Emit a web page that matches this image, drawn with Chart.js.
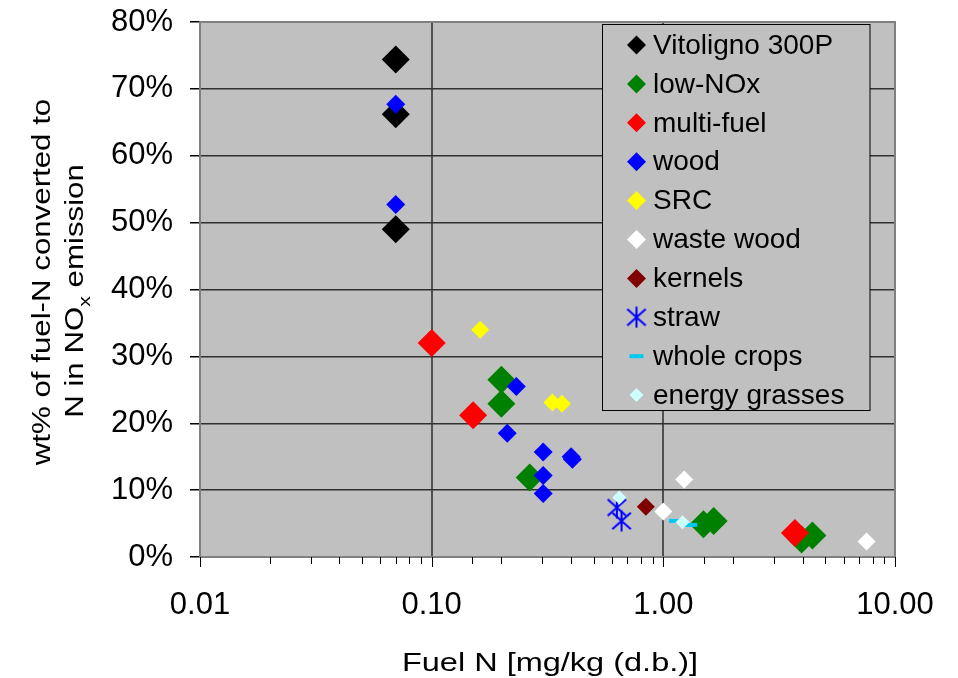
<!DOCTYPE html>
<html>
<head>
<meta charset="utf-8">
<script src="https://cdn.jsdelivr.net/npm/chart.js@4/dist/chart.umd.min.js"></script>
<style>
html,body{margin:0;padding:0;background:#fff;}
#wrap{width:958px;height:678px;position:relative;}
canvas{display:block;}
</style>
</head>
<body>
<div id="wrap"><canvas id="c" width="958" height="678"></canvas></div>
<script>
// ---------------- DATA ----------------
const seriesLabels = ['Vitoligno 300P','low-NOx','multi-fuel','wood','SRC','waste wood','kernels','straw','whole crops','energy grasses'];

// [Fuel N, wt% converted]
const vitoligno300P = [[0.07,74.4],[0.07,66.2],[0.07,49.0]];
const lowNOx        = [[0.20,26.5],[0.20,22.9],[0.265,11.9],[1.49,4.9],[1.65,5.4],[3.95,2.6],[4.40,3.2]];
const multiFuel     = [[0.10,32.0],[0.151,21.2],[3.70,3.6]];
const wood          = [[0.07,67.7],[0.07,52.7],[0.232,25.5],[0.212,18.5],[0.303,15.7],[0.40,15.0],[0.405,14.6],[0.303,12.2],[0.303,9.5]];
const src           = [[0.162,34.0],[0.332,23.1],[0.365,22.9]];
const wasteWood     = [[1.00,6.8],[1.23,11.6],[7.54,2.3]];
const kernels       = [[0.84,7.5]];
const straw         = [[0.63,7.4],[0.66,5.4]];
const wholeCrops    = [[1.14,5.4],[1.30,4.8]];
const energyGrasses = [[0.646,8.9],[1.21,5.2]];

const xDecades      = [0.01, 0.1, 1, 10];
const xDecadeLabels = ['0.01','0.10','1.00','10.00'];
const yMin = 0, yMax = 80, yStep = 10;

const xTitle = 'Fuel N [mg/kg (d.b.)]';
const yTitleLine1 = 'wt% of fuel-N converted to';
const yTitleLine2 = ['N in NO', 'x', ' emission'];

// ---------------- STYLE ----------------
const FONT = '"Liberation Sans", Arial, Helvetica, sans-serif';

function makeStar(size, color, lw) {
  const c = document.createElement('canvas');
  c.width = size; c.height = size;
  const g = c.getContext('2d');
  g.strokeStyle = color; g.lineWidth = lw; g.lineCap = 'butt';
  const h = size / 2, d = size * 0.42;
  g.beginPath();
  g.moveTo(h, 0.5); g.lineTo(h, size - 0.5);
  g.moveTo(h - d, h - d * 0.9); g.lineTo(h + d, h + d * 0.9);
  g.moveTo(h - d, h + d * 0.9); g.lineTo(h + d, h - d * 0.9);
  g.stroke();
  return c;
}
const starImg = makeStar(22, '#0000ff', 2);

const seriesData = [vitoligno300P, lowNOx, multiFuel, wood, src, wasteWood, kernels, straw, wholeCrops, energyGrasses];
const seriesStyle = [
  {color:'#000000', style:'rectRot', r:14,  lr:9.5},
  {color:'#008000', style:'rectRot', r:14,  lr:9.5},
  {color:'#ff0000', style:'rectRot', r:14,  lr:9.5},
  {color:'#0000ff', style:'rectRot', r:9.5, lr:9.5},
  {color:'#ffff00', style:'rectRot', r:9,   lr:9.5},
  {color:'#ffffff', style:'rectRot', r:9,   lr:9.5},
  {color:'#800000', style:'rectRot', r:9,   lr:9.5},
  {color:'#0000ff', style:'star',    r:11,  lr:11},
  {color:'#00c8f0', style:'line',    r:7.5, lr:7},
  {color:'#ccffff', style:'rectRot', r:7,   lr:7}
];

const N = seriesLabels.length;
const datasets = seriesLabels.map((lab, i) => {
  const s = seriesStyle[i];
  const isLine = s.style === 'line';
  return {
    label: lab,
    data: seriesData[i].map(p => ({x: p[0], y: p[1]})),
    showLine: false,
    clip: false,
    order: N - i,
    pointStyle: s.style === 'star' ? starImg : s.style,
    pointRadius: s.r,
    pointHoverRadius: s.r,
    pointBackgroundColor: s.color,
    pointBorderColor: s.color,
    pointBorderWidth: isLine ? 4 : 0,
    pointHoverBorderWidth: isLine ? 4 : 0,
    backgroundColor: s.color,
    borderColor: s.color
  };
});

function isDecade(v) {
  return xDecades.some(d => Math.abs(v - d) / d < 1e-6);
}

// ---------------- PLUGINS ----------------
const bgPlugin = {
  id: 'bg',
  beforeDraw(chart) {
    const {ctx, chartArea: a} = chart;
    ctx.save();
    ctx.fillStyle = '#ffffff';
    ctx.fillRect(0, 0, chart.width, chart.height);
    ctx.fillStyle = '#c0c0c0';
    ctx.fillRect(a.left, a.top, a.right - a.left, a.bottom - a.top);
    ctx.restore();
  }
};

const decorPlugin = {
  id: 'decor',
  afterDatasetsDraw(chart) {
    const {ctx, chartArea: a} = chart;
    const xs = chart.scales.x;
    ctx.save();
    ctx.strokeStyle = '#808080';
    ctx.lineWidth = 2;
    ctx.strokeRect(a.left, a.top, a.right - a.left, a.bottom - a.top);
    ctx.strokeStyle = '#000000';
    ctx.lineWidth = 1;
    xs.ticks.forEach(t => {
      const px = Math.round(xs.getPixelForValue(t.value)) + 0.5;
      const len = isDecade(t.value) ? 10 : 7;
      ctx.beginPath();
      ctx.moveTo(px, a.bottom);
      ctx.lineTo(px, a.bottom + len);
      ctx.stroke();
    });
    ctx.restore();
  },
  afterDraw(chart) {
    const ctx = chart.ctx;
    ctx.save();
    ctx.fillStyle = '#000000';
    ctx.font = '26px ' + FONT;
    ctx.textAlign = 'center';
    ctx.textBaseline = 'alphabetic';
    ctx.save();
    ctx.translate(550, 671);
    ctx.scale(1.25, 1);
    ctx.fillText(xTitle, 0, 0);
    ctx.restore();

    ctx.save();
    ctx.translate(50, 282);
    ctx.rotate(-Math.PI / 2);
    ctx.scale(1.25, 1);
    ctx.font = '25px ' + FONT;
    ctx.textAlign = 'center';
    ctx.fillText(yTitleLine1, 0, 0);
    ctx.restore();

    ctx.save();
    ctx.translate(83, 291);
    ctx.rotate(-Math.PI / 2);
    ctx.scale(1.25, 1);
    ctx.textAlign = 'left';
    ctx.font = '25px ' + FONT;
    const w1 = ctx.measureText(yTitleLine2[0]).width;
    const w3 = ctx.measureText(yTitleLine2[2]).width;
    ctx.font = '17px ' + FONT;
    const w2 = ctx.measureText(yTitleLine2[1]).width;
    let u = -(w1 + w2 + w3) / 2;
    ctx.font = '25px ' + FONT;
    ctx.fillText(yTitleLine2[0], u, 0);
    u += w1;
    ctx.font = '17px ' + FONT;
    ctx.fillText(yTitleLine2[1], u, 7);
    u += w2;
    ctx.font = '25px ' + FONT;
    ctx.fillText(yTitleLine2[2], u, 0);
    ctx.restore();

    const lx = 602.5, ly = 24.5, lw = 267.5, lh = 386;
    ctx.fillStyle = '#c0c0c0';
    ctx.fillRect(lx, ly, lw, lh);
    ctx.strokeStyle = '#000000';
    ctx.lineWidth = 1;
    ctx.strokeRect(lx, ly, lw, lh);
    ctx.font = '28px ' + FONT;
    ctx.textAlign = 'left';
    ctx.textBaseline = 'middle';
    chart.data.datasets.forEach((ds, i) => {
      const s = seriesStyle[i];
      const cy = 45 + i * 38.9;
      const cx = 636.5;
      ctx.fillStyle = s.color;
      if (s.style === 'rectRot') {
        const r = s.lr;
        ctx.beginPath();
        ctx.moveTo(cx - r, cy); ctx.lineTo(cx, cy - r);
        ctx.lineTo(cx + r, cy); ctx.lineTo(cx, cy + r);
        ctx.closePath(); ctx.fill();
      } else if (s.style === 'line') {
        ctx.fillRect(cx - s.lr, cy - 2, s.lr * 2, 4);
      } else if (s.style === 'star') {
        ctx.drawImage(starImg, cx - 11, cy - 11);
      }
      ctx.fillStyle = '#000000';
      ctx.fillText(ds.label, 653, cy + 1);
    });
    ctx.restore();
  }
};

// ---------------- CHART ----------------
new Chart(document.getElementById('c'), {
  type: 'scatter',
  data: { datasets },
  plugins: [bgPlugin, decorPlugin],
  options: {
    responsive: false,
    animation: false,
    events: [],
    devicePixelRatio: 1,
    layout: { padding: { top: 22, right: 63, left: 0, bottom: 0 } },
    plugins: { legend: { display: false }, tooltip: { enabled: false }, title: { display: false } },
    scales: {
      x: {
        type: 'logarithmic',
        position: 'bottom',
        min: 0.01,
        max: 10,
        afterFit(scale) {
          scale.height = 121;
          scale.paddingLeft = 0; scale.paddingRight = 0;
          scale.paddingTop = 0; scale.paddingBottom = 0;
        },
        border: { display: true, color: '#808080', width: 2 },
        grid: {
          drawTicks: false,
          lineWidth: 2,
          color: c => (c.tick && isDecade(c.tick.value)) ? '#505050' : 'rgba(0,0,0,0)'
        },
        ticks: {
          autoSkip: false,
          maxRotation: 0,
          minRotation: 0,
          padding: 30,
          color: '#000000',
          font: { family: FONT, size: 31 },
          callback: v => {
            const idx = xDecades.findIndex(d => Math.abs(v - d) / d < 1e-6);
            return idx >= 0 ? xDecadeLabels[idx] : '';
          }
        }
      },
      y: {
        type: 'linear',
        min: yMin,
        max: yMax,
        afterFit(scale) {
          scale.width = 200;
          scale.paddingTop = 0; scale.paddingBottom = 0;
          scale.paddingLeft = 0; scale.paddingRight = 0;
        },
        border: { display: true, color: '#808080', width: 2 },
        grid: { color: '#303030', lineWidth: 1.5, tickLength: 10, tickColor: '#000000', drawTicks: true },
        ticks: {
          stepSize: yStep,
          padding: 17,
          color: '#000000',
          font: { family: FONT, size: 31 },
          callback: v => v + '%'
        }
      }
    }
  }
});
</script>
</body>
</html>
